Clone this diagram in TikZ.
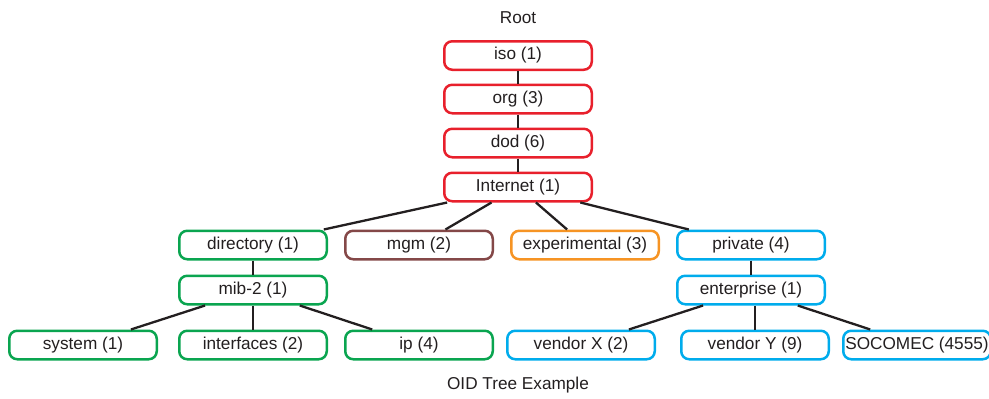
\documentclass[tikz,border=0pt]{standalone}
\usepackage{fontspec}
\setmainfont{Liberation Sans}
\usetikzlibrary{positioning}
\definecolor{oidRed}{RGB}{232,32,44}
\definecolor{oidGreen}{RGB}{10,165,80}
\definecolor{oidBrown}{RGB}{132,72,72}
\definecolor{oidOrange}{RGB}{246,148,36}
\definecolor{oidCyan}{RGB}{0,172,236}
\definecolor{inkDark}{RGB}{35,31,32}
\tikzset{
  oid box/.style={draw,rounded corners=8pt,line width=2.5pt,fill=white,text=inkDark,minimum width=147.5pt,minimum height=28.5pt,inner sep=0pt},
  oid red/.style={oid box,draw=oidRed},
  oid green/.style={oid box,draw=oidGreen},
  oid brown/.style={oid box,draw=oidBrown},
  oid orange/.style={oid box,draw=oidOrange},
  oid cyan/.style={oid box,draw=oidCyan},
  oid link/.style={line width=2.3pt,draw=inkDark}
}

\begin{document}
\begin{tikzpicture}[x=1pt,y=-1pt,font=\fontsize{17.2}{20}\selectfont]
        \useasboundingbox (0,0) rectangle (989,399);
        \node[text=inkDark] (root) at (518,18) {Root};
        % top chain
        \node[oid red] (iso) at (518,55.5) {iso (1)};
        \node[oid red] (org) at (518,99) {org (3)};
        \node[oid red] (dod) at (518,143) {dod (6)};
        \node[oid red] (internet) at (518,187) {Internet (1)};
        % second level
        \node[oid green] (directory) at (253,245) {directory (1)};
        \node[oid brown] (mgm) at (419,245) {mgm (2)};
        \node[oid orange] (experimental) at (585,245) {experimental (3)};
        \node[oid cyan] (private) at (751,245) {private (4)};
        \node[oid green] (mib) at (253,290) {mib-2 (1)};
        \node[oid cyan] (enterprise) at (751,290) {enterprise (1)};
        % leaves
        \node[oid green] (system) at (83,345) {system (1)};
        \node[oid green] (interfaces) at (253,345) {interfaces (2)};
        \node[oid green] (ip) at (419,345) {ip (4)};
        \node[oid cyan] (vendorx) at (581,345) {vendor X (2)};
        \node[oid cyan] (vendory) at (755,345) {vendor Y (9)};
        \node[oid cyan] (socomec) at (917,345) {SOCOMEC (4555)};
        \node[text=inkDark] (caption) at (518,385) {OID Tree Example};
        % links
        \draw[oid link] (iso) -- (org);
        \draw[oid link] (org) -- (dod);
        \draw[oid link] (dod) -- (internet);
        \foreach \child in {directory,mgm,experimental,private}
          \draw[oid link] (internet) -- (\child);
        \draw[oid link] (directory) -- (mib);
        \draw[oid link] (private) -- (enterprise);
        \foreach \child in {system,interfaces,ip}
          \draw[oid link] (mib) -- (\child);
        \draw[oid link] (enterprise) -- (vendorx);
        \draw[oid link] (enterprise.south -| vendory) -- (vendory);
        \draw[oid link] (enterprise) -- (socomec);
      \end{tikzpicture}
\end{document}
